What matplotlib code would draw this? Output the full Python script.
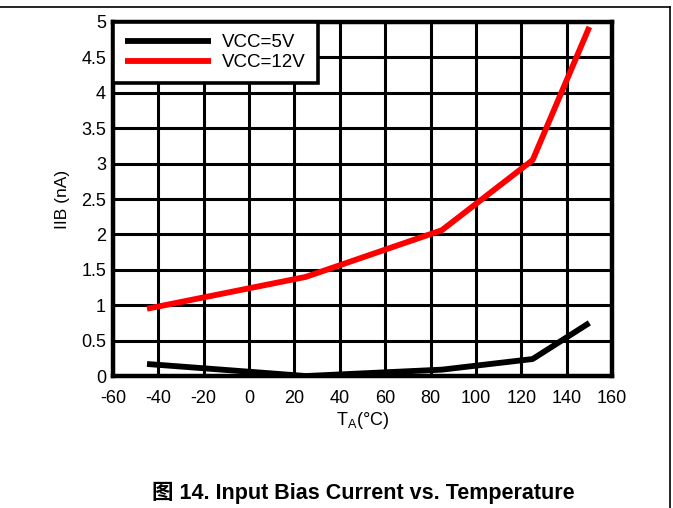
import matplotlib
matplotlib.use('Agg')
import matplotlib.pyplot as plt
from matplotlib.lines import Line2D

plt.rcParams['font.family'] = ['Liberation Sans', 'Noto Sans CJK SC', 'DejaVu Sans']
plt.rcParams['axes.unicode_minus'] = False

# 数据
temp_5v = [-45, 25, 85, 125, 150]
iib_5v = [0.17, 0.0, 0.09, 0.24, 0.75]
temp_12v = [-45, 25, 85, 125, 150]
iib_12v = [0.95, 1.40, 2.06, 3.05, 4.93]
x_ticks = [-60, -40, -20, 0, 20, 40, 60, 80, 100, 120, 140, 160]
y_ticks = [0, 0.5, 1, 1.5, 2, 2.5, 3, 3.5, 4, 4.5, 5]
y_tick_labels = ['0', '0.5', '1', '1.5', '2', '2.5', '3', '3.5', '4', '4.5', '5']

fig = plt.figure(figsize=(6.73, 5.08), dpi=100)
ax = fig.add_axes([0.1679, 0.2598, 0.7415, 0.6969])

ax.plot(temp_5v, iib_5v, color='black', linewidth=4.2, label='VCC=5V',
        solid_capstyle='butt', zorder=3)
ax.plot(temp_12v, iib_12v, color='#ff0000', linewidth=4.2, label='VCC=12V',
        solid_capstyle='butt', zorder=3)

ax.set_xlim(-60, 160)
ax.set_ylim(0, 5)
ax.set_xticks(x_ticks)
ax.set_yticks(y_ticks)
ax.set_yticklabels(y_tick_labels)
ax.tick_params(length=0, labelsize=13)
ax.tick_params(axis='x', pad=10)
ax.tick_params(axis='y', pad=5)
ax.grid(True, color='black', linewidth=2.2, zorder=1)
ax.set_axisbelow(True)
for s in ax.spines.values():
    s.set_linewidth(3.2)
    s.set_zorder(5)

ax.set_ylabel('IIB (nA)', fontsize=12.5, labelpad=8)
ax.set_xlabel('T$_\\mathregular{A}$(°C)', fontsize=13, labelpad=2)

leg = ax.legend(loc='upper left', bbox_to_anchor=(0, 1), borderaxespad=0,
                fontsize=13.5, handlelength=4.6, handletextpad=0.55,
                labelspacing=0.15, borderpad=0.65, fancybox=False,
                framealpha=1, edgecolor='black')
leg.get_frame().set_linewidth(2.6)
leg.set_zorder(6)

# 外框
fig.add_artist(Line2D([0, 670 / 673], [1 - 6.5 / 508, 1 - 6.5 / 508],
                      transform=fig.transFigure, color='black', linewidth=1.2))
fig.add_artist(Line2D([670 / 673, 670 / 673], [0, 1 - 6.5 / 508],
                      transform=fig.transFigure, color='black', linewidth=1.2))

fig.text(363 / 673, 1 - 493 / 508, '图 14. Input Bias Current vs. Temperature',
         ha='center', va='center', fontsize=15.5, fontweight='bold')

fig.savefig('out.png', dpi=100)
